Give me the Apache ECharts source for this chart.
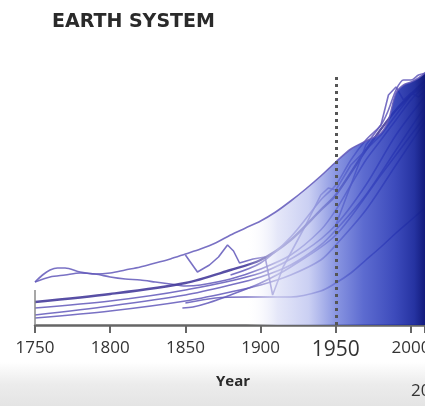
<!DOCTYPE html>
<html>
<head>
<meta charset="utf-8">
<script src="https://cdn.jsdelivr.net/npm/echarts@6/dist/echarts.min.js"></script>
<style>
  html, body { margin: 0; padding: 0; background: #fff; }
  #chart { width: 425px; height: 406px; }
</style>
</head>
<body>
<div id="chart"></div>
<script>
// tick labels on the year axis
const yearTicks = [1750, 1800, 1850, 1900, 1950, 2000];

// index values (arbitrary units), [year, value]
const envelope = [[1750,43],[1755,50],[1760,55],[1765,57],[1770,57],[1780,53],[1790,51],[1800,52],[1810,55],[1820,58],[1830,62],[1840,66],[1850,71],[1860,76],[1870,82],[1880,90],[1890,97],[1900,104],[1910,113],[1920,124],[1930,136],[1940,149],[1950,163],[1960,176],[1970,184],[1980,192],[1985,205],[1990,232],[1995,240],[2000,243],[2005,247],[2010,253]];
const loopLow = [[1750,43],[1760,48],[1770,50],[1780,52],[1790,51],[1800,48],[1810,46],[1820,45],[1830,43],[1840,41],[1850,39],[1860,40],[1880,46],[1900,56],[1920,70],[1940,95],[1950,115],[1960,140],[1970,165],[1980,185],[1990,205],[2000,225],[2010,240]];
const tempLine = [[1850,70],[1858,53],[1866,60],[1872,68],[1878,80],[1882,74],[1886,62],[1895,66],[1903,68],[1908,30],[1915,58],[1920,72],[1930,100],[1940,130],[1945,137],[1950,135],[1960,160],[1970,175],[1980,190],[1990,210],[2000,230],[2010,240]];
const bandDark = [[1750,23],[1800,31],[1850,42],[1880,55],[1900,65],[1920,85],[1940,115],[1950,130],[1970,175],[1990,215],[2010,245]];
const bandTwo = [[1750,17],[1800,24],[1850,35],[1900,52],[1930,75],[1950,100],[1970,140],[1990,190],[2010,230]];
const bandThree = [[1750,10],[1800,19],[1850,30],[1880,40],[1900,48],[1920,60],[1940,80],[1950,95],[1970,130],[1990,175],[2010,220]];
const bandFour = [[1750,7],[1800,14],[1850,24],[1880,33],[1900,40],[1920,50],[1940,65],[1950,80],[1970,115],[1990,160],[2010,205]];
const flatLine = [[1850,22],[1870,27],[1890,28],[1920,28],[1940,34],[1950,42],[1960,52],[1970,65],[1980,78],[1990,92],[2000,105],[2010,118]];
const shortLine = [[1848,17],[1855,18],[1865,22],[1880,30],[1900,42],[1920,58],[1950,90],[1980,150],[2010,210]];
const steepLine = [[1880,50],[1900,62],[1920,88],[1940,125],[1950,140],[1960,165],[1970,185],[1980,200],[1985,215],[1990,235],[1995,245],[2000,245],[2005,250],[2010,252]];
const fishLine = [[1950,100],[1960,140],[1970,180],[1980,200],[1985,230],[1990,238],[1995,225],[2000,232],[2005,228],[2010,235]];
const yStub = [[1750,0],[1750,35]];

const lineColor = 'rgba(98,88,186,0.85)';

const chart = echarts.init(document.getElementById('chart'));

function curve(name, data, opts) {
  return Object.assign({
    name: name,
    type: 'line',
    data: data,
    symbol: 'none',
    smooth: 0.3,
    lineStyle: { color: lineColor, width: 1.6 },
    z: 3,
  }, opts || {});
}

const option = {
  backgroundColor: '#ffffff',
  animation: false,
  graphic: [
    {
      type: 'rect',
      shape: { x: 0, y: 362, width: 425, height: 44 },
      style: {
        fill: new echarts.graphic.LinearGradient(0, 0, 0, 1, [
          { offset: 0, color: '#ffffff' },
          { offset: 0.5, color: '#ececec' },
          { offset: 1, color: '#e4e4e4' },
        ]),
      },
      z: -10,
    },
    {
      type: 'text',
      left: 52,
      top: 13,
      style: { text: 'EARTH SYSTEM', fontFamily: 'DejaVu Sans', fontWeight: 'bold', fontSize: 19, fill: '#2a2a2a' },
    },
    {
      type: 'text',
      left: 216,
      top: 374,
      style: { text: 'Year', fontFamily: 'Open Sans', fontWeight: 'bold', fontSize: 15, fill: '#2a2a2a' },
    },
    {
      type: 'text',
      left: 411,
      top: 383,
      style: { text: '2010', fontFamily: 'Open Sans', fontSize: 17, fill: '#333' },
    },
  ],
  grid: { left: 35, right: 0, top: 60, bottom: 81, outerBoundsMode: 'none' },
  xAxis: {
    type: 'value',
    min: 1750,
    max: 2009.3,
    interval: 50,
    splitLine: { show: false },
    axisLine: { lineStyle: { color: '#666', width: 2.5 } },
    axisTick: { length: 8, lineStyle: { color: '#666', width: 2 } },
    axisLabel: {
      margin: 15,
      customValues: yearTicks,
      formatter: (v) => (v === 1950 ? '{big|' + v + '}' : '{n|' + v + '}'),
      rich: {
        n: { fontFamily: 'Open Sans', fontSize: 17, color: '#333' },
        big: { fontFamily: 'Open Sans', fontSize: 21, color: '#333' },
      },
    },
  },
  yAxis: { type: 'value', min: 0, max: 265, show: false },
  series: [
    curve('envelope', envelope, {
      z: 4,
      areaStyle: {
        opacity: 1,
        color: new echarts.graphic.LinearGradient(0, 0, 1, 0, [
          { offset: 0, color: 'rgba(255,255,255,0)' },
          { offset: 0.54, color: 'rgba(255,255,255,0)' },
          { offset: 0.62, color: 'rgba(218,221,246,0.7)' },
          { offset: 0.70, color: 'rgba(182,189,238,0.72)' },
          { offset: 0.77, color: 'rgba(100,116,216,0.76)' },
          { offset: 0.84, color: 'rgba(52,70,196,0.8)' },
          { offset: 0.92, color: 'rgba(34,50,178,0.88)' },
          { offset: 0.97, color: 'rgba(26,40,156,0.95)' },
          { offset: 1, color: 'rgba(16,24,120,1)' },
        ]),
      },
    }),
    curve('loopLow', loopLow),
    curve('tempLine', tempLine, { smooth: false }),
    curve('bandDark', bandDark, { lineStyle: { color: 'rgba(70,60,155,0.9)', width: 2.4 } }),
    curve('bandTwo', bandTwo),
    curve('bandThree', bandThree),
    curve('bandFour', bandFour),
    curve('flatLine', flatLine),
    curve('shortLine', shortLine),
    curve('steepLine', steepLine),
    curve('fishLine', fishLine, { smooth: false }),
    curve('yStub', yStub, {
      smooth: false,
      z: 5,
      lineStyle: { color: '#8a8a8a', width: 1.5 },
      markLine: {
        symbol: 'none',
        silent: true,
        label: { show: false },
        lineStyle: { color: '#555', width: 3, type: [3, 4] },
        data: [[{ coord: [1950, 0] }, { coord: [1950, 250] }]],
      },
    }),
  ],
};

chart.setOption(option);
</script>
</body>
</html>
